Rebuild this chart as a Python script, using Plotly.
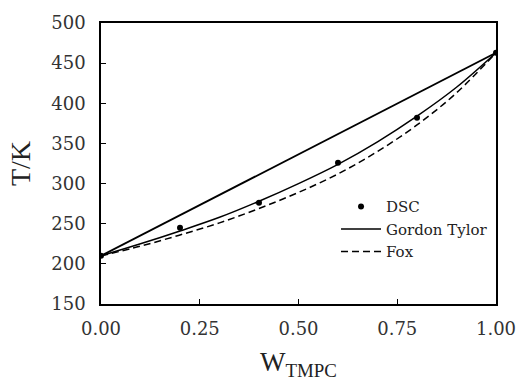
import plotly.graph_objects as go

# Measured glass transition temperatures (DSC)
w_dsc = [0.0, 0.2, 0.4, 0.6, 0.8, 1.0]
t_dsc = [210, 245, 276, 326, 382, 463]

# Model curves sampled along the weight fraction
w_model = [0.0, 0.1, 0.2, 0.3, 0.4, 0.5, 0.6, 0.7, 0.8, 0.9, 1.0]
t_gordon_tylor = [210, 225, 241, 258, 278, 300, 324, 352, 384, 420, 463]
t_fox = [210, 222, 236, 251, 269, 289, 312, 340, 373, 413, 463]

# Linear mixing line between the pure components
w_linear = [0.0, 1.0]
t_linear = [210, 463]

x_ticks = [0.0, 0.25, 0.5, 0.75, 1.0]
x_tick_text = ["0.00", "0.25", "0.50", "0.75", "1.00"]
y_ticks = [150, 200, 250, 300, 350, 400, 450, 500]

title_serif = "Liberation Serif"
text_serif = "DejaVu Serif"

fig = go.Figure()
fig.add_trace(go.Scatter(
    x=w_linear, y=t_linear, mode="lines",
    line=dict(color="black", width=1.8), showlegend=False, hoverinfo="skip"))
fig.add_trace(go.Scatter(
    x=w_dsc, y=t_dsc, mode="markers", name="DSC",
    marker=dict(color="black", size=6)))
fig.add_trace(go.Scatter(
    x=w_model, y=t_gordon_tylor, mode="lines", name="Gordon Tylor",
    line=dict(color="black", width=1.5, shape="spline")))
fig.add_trace(go.Scatter(
    x=w_model, y=t_fox, mode="lines", name="Fox",
    line=dict(color="black", width=1.5, dash="7px,4px", shape="spline")))

axis_common = dict(
    showgrid=False, zeroline=False, showline=True, linecolor="black",
    linewidth=1.5, mirror=True, ticks="inside", ticklen=5, tickwidth=1.2,
    tickcolor="black",
)

fig.update_xaxes(
    range=[0, 1], tickvals=x_ticks, ticktext=x_tick_text,
    tickfont=dict(family=text_serif, size=18, color="#333"), ticklabelstandoff=8,
    title=dict(text="W<sub>TMPC</sub>", font=dict(family=title_serif, size=27, color="#222"),
               standoff=14),
    **axis_common)
fig.update_yaxes(
    range=[150, 500], tickvals=y_ticks,
    tickfont=dict(family=text_serif, size=18, color="#333"), ticklabelstandoff=10,
    title=dict(text="T/K", font=dict(family=title_serif, size=28, color="#222"),
               standoff=12),
    **axis_common)

fig.update_layout(
    width=528, height=392,
    margin=dict(l=101, r=23, t=23, b=88),
    paper_bgcolor="white", plot_bgcolor="white",
    font=dict(family=text_serif, color="#222"),
    legend=dict(x=0.595, y=0.405, xanchor="left", yanchor="top",
                bgcolor="rgba(0,0,0,0)", font=dict(family=text_serif, size=15, color="#222"),
                tracegroupgap=0, itemwidth=40),
)

fig.write_html("out.html")
